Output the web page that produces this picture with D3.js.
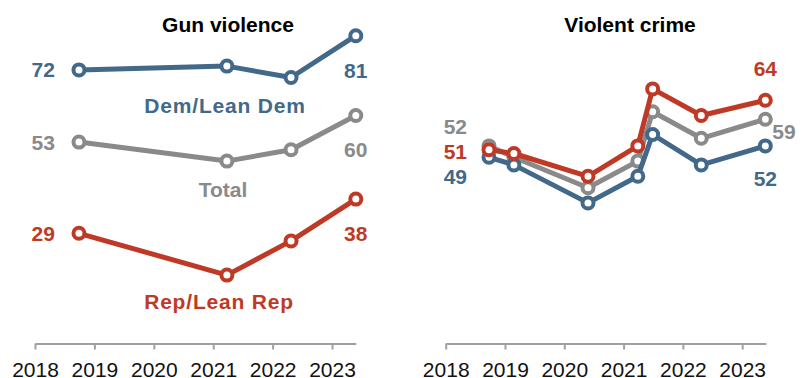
<!DOCTYPE html>
<html>
<head>
<meta charset="utf-8">
<script src="https://cdn.jsdelivr.net/npm/d3@7/dist/d3.min.js"></script>
<style>
  html, body { margin: 0; padding: 0; background: #fff; }
  svg { display: block; font-family: "Liberation Sans", Arial, sans-serif; }
</style>
</head>
<body>
<svg id="chart" width="804" height="378"></svg>
<script>
// Axis years
const years = [2018, 2019, 2020, 2021, 2022, 2023];

// Gun violence survey waves (decimal year) and shares
const gunDates = [2018.74, 2021.23, 2022.31, 2023.4];
const gunDem = [72, 73, 70, 81];
const gunTotal = [53, 48, 51, 60];
const gunRep = [29, 18, 27, 38];

// Violent crime survey waves (decimal year) and shares
const crimeDates = [2018.73, 2019.15, 2020.4, 2021.24, 2021.49, 2022.31, 2023.39];
const crimeDem = [49, 47, 37, 44, 55, 47, 52];
const crimeTotal = [52, 49, 41, 48, 61, 54, 59];
const crimeRep = [51, 50, 44, 52, 67, 60, 64];

const colors = { dem: "#42698a", total: "#8a8a8a", rep: "#bf3a26" };

const svg = d3.select("#chart");

// Shared vertical scale
const y = d3.scaleLinear().domain([0, 90]).range([343.5, 1.5]);

const xGun = d3.scaleLinear().domain([2018, 2023.4]).range([35, 355.8]);
const xCrime = d3.scaleLinear().domain([2018, 2023.4]).range([445.7, 765.9]);

function drawAxis(x) {
  const g = svg.append("g").attr("transform", `translate(0,${y(0)})`);
  g.call(d3.axisBottom(x).tickValues(years).tickFormat(d3.format("d")).tickSize(6).tickSizeOuter(0));
  g.select(".domain").attr("stroke", "#a0a0a0").attr("stroke-width", 2);
  g.selectAll(".tick line").attr("stroke", "#a0a0a0").attr("stroke-width", 2);
  g.selectAll(".tick text")
    .attr("y", 0).attr("dy", 0)
    .attr("transform", "translate(0,33)")
    .attr("fill", "#111")
    .style("font-size", "21px")
    .style("font-family", "'Liberation Sans', Arial, sans-serif");
}

function drawSeries(x, dates, values, color) {
  const pts = dates.map((d, i) => [d, values[i]]);
  const line = d3.line().x(d => x(d[0])).y(d => y(d[1]));
  const g = svg.append("g");
  g.append("path")
    .attr("d", line(pts))
    .attr("fill", "none")
    .attr("stroke", color)
    .attr("stroke-width", 5)
    .attr("stroke-linejoin", "round");
  g.selectAll("circle").data(pts).join("circle")
    .attr("cx", d => x(d[0]))
    .attr("cy", d => y(d[1]))
    .attr("r", 5.5)
    .attr("fill", "#fff")
    .attr("stroke", color)
    .attr("stroke-width", 4);
}

function label(xPos, yPos, text, color, anchor, extra) {
  const t = svg.append("text")
    .attr("x", xPos).attr("y", yPos)
    .attr("text-anchor", anchor || "middle")
    .attr("fill", color)
    .style("font-size", "21px")
    .style("font-weight", "bold")
    .text(text);
  if (extra) t.style("letter-spacing", extra);
  return t;
}

// Titles
svg.append("text").attr("x", 228).attr("y", 32).attr("text-anchor", "middle")
  .style("font-size", "21px").style("font-weight", "bold").attr("fill", "#000")
  .text("Gun violence");
svg.append("text").attr("x", 630).attr("y", 32).attr("text-anchor", "middle")
  .style("font-size", "21px").style("font-weight", "bold").attr("fill", "#000")
  .text("Violent crime");

// Left panel: gun violence
drawAxis(xGun);
drawSeries(xGun, gunDates, gunTotal, colors.total);
drawSeries(xGun, gunDates, gunDem, colors.dem);
drawSeries(xGun, gunDates, gunRep, colors.rep);

const gFirst = gunDates[0], gLast = gunDates[gunDates.length - 1];
const gl = gunDates.length - 1;
label(xGun(gFirst) - 24, y(gunDem[0]) + 7.5, gunDem[0], colors.dem, "end");
label(xGun(gFirst) - 24, y(gunTotal[0]) + 7.5, gunTotal[0], colors.total, "end");
label(xGun(gFirst) - 24, y(gunRep[0]) + 7.5, gunRep[0], colors.rep, "end");
label(xGun(gLast), y(gunDem[gl]) + 42, gunDem[gl], colors.dem);
label(xGun(gLast), y(gunTotal[gl]) + 41, gunTotal[gl], colors.total);
label(xGun(gLast), y(gunRep[gl]) + 42, gunRep[gl], colors.rep);

label(225, 113, "Dem/Lean Dem", colors.dem, "middle", "0.8px");
label(223, 197, "Total", colors.total, "middle");
label(219, 309, "Rep/Lean Rep", colors.rep, "middle", "0.8px");

// Right panel: violent crime
drawAxis(xCrime);
drawSeries(xCrime, crimeDates, crimeTotal, colors.total);
drawSeries(xCrime, crimeDates, crimeDem, colors.dem);
drawSeries(xCrime, crimeDates, crimeRep, colors.rep);

const cFirst = crimeDates[0], cLast = crimeDates[crimeDates.length - 1];
const cl = crimeDates.length - 1;
label(xCrime(cFirst) - 22, y(crimeTotal[0]) - 12, crimeTotal[0], colors.total, "end");
label(xCrime(cFirst) - 22, y(crimeRep[0]) + 9, crimeRep[0], colors.rep, "end");
label(xCrime(cFirst) - 22, y(crimeDem[0]) + 27, crimeDem[0], colors.dem, "end");
label(xCrime(cLast), y(crimeRep[cl]) - 24, crimeRep[cl], colors.rep);
label(xCrime(cLast) + 7, y(crimeTotal[cl]) + 20, crimeTotal[cl], colors.total, "start");
label(xCrime(cLast), y(crimeDem[cl]) + 40, crimeDem[cl], colors.dem);
</script>
</body>
</html>
